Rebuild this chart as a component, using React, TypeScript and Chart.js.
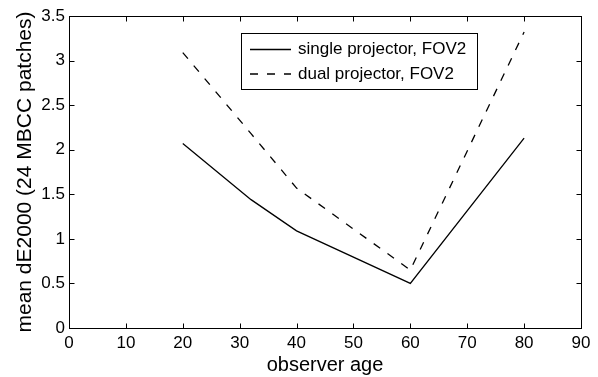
import React, { useEffect, useRef } from "react";
import { Chart, registerables } from "chart.js";

Chart.register(...registerables);

const ages = [20, 32, 40, 60, 80];
const singleProjector = [2.07, 1.44, 1.09, 0.5, 2.13];
const dualProjector = [3.09, 2.18, 1.57, 0.65, 3.32];
const seriesLabels = ["single projector, FOV2", "dual projector, FOV2"];
const xTicks = [0, 10, 20, 30, 40, 50, 60, 70, 80, 90];
const yTicks = [0, 0.5, 1, 1.5, 2, 2.5, 3, 3.5];
const xTitle = "observer age";
const yTitle = "mean dE2000 (24 MBCC patches)";

const FONT = "'Liberation Sans', Arial, Helvetica, sans-serif";

const framePlugin = {
  id: "matlabFrame",
  afterDraw(chart: any) {
    const { ctx, chartArea: a, scales } = chart;
    const xs = scales.x;
    const ys = scales.y;
    ctx.save();
    ctx.strokeStyle = "#000";
    ctx.lineWidth = 1;
    const L = Math.round(a.left) + 0.5;
    const T = Math.round(a.top) + 0.5;
    const R = Math.round(a.right) + 0.5;
    const B = Math.round(a.bottom) + 0.5;
    ctx.strokeRect(L, T, R - L, B - T);
    const tl = 5;
    ctx.beginPath();
    xTicks.forEach((v) => {
      const p = Math.round(xs.getPixelForValue(v)) + 0.5;
      ctx.moveTo(p, B);
      ctx.lineTo(p, B - tl);
      ctx.moveTo(p, T);
      ctx.lineTo(p, T + tl);
    });
    yTicks.forEach((v) => {
      const p = Math.round(ys.getPixelForValue(v)) + 0.5;
      ctx.moveTo(L, p);
      ctx.lineTo(L + tl, p);
      ctx.moveTo(R, p);
      ctx.lineTo(R - tl, p);
    });
    ctx.stroke();

    // legend box
    const bx = 241.5;
    const by = 33.5;
    const bw = 236;
    const bh = 56;
    ctx.fillStyle = "#fff";
    ctx.fillRect(bx, by, bw, bh);
    ctx.strokeRect(bx, by, bw, bh);
    const rows = [49.5, 74];
    chart.data.datasets.forEach((ds: any, i: number) => {
      const y = rows[i];
      ctx.beginPath();
      ctx.lineWidth = ds.borderWidth;
      ctx.setLineDash(ds.borderDash || []);
      ctx.moveTo(250, y);
      ctx.lineTo(291, y);
      ctx.stroke();
      ctx.setLineDash([]);
      ctx.fillStyle = "#000";
      ctx.font = `17px ${FONT}`;
      ctx.textBaseline = "middle";
      ctx.textAlign = "left";
      ctx.fillText(ds.label, 298, y);
    });
    ctx.restore();
  },
};

export default function App() {
  const ref = useRef<HTMLCanvasElement | null>(null);
  useEffect(() => {
    if (!ref.current) return;
    const chart = new Chart(ref.current, {
      type: "line",
      data: {
        datasets: [
          {
            label: seriesLabels[0],
            data: ages.map((a, i) => ({ x: a, y: singleProjector[i] })),
            borderColor: "#000",
            borderWidth: 1.3,
            pointRadius: 0,
            tension: 0,
            fill: false,
          },
          {
            label: seriesLabels[1],
            data: ages.map((a, i) => ({ x: a, y: dualProjector[i] })),
            borderColor: "#000",
            borderWidth: 1.3,
            borderDash: [8, 9],
            pointRadius: 0,
            tension: 0,
            fill: false,
          },
        ],
      },
      options: {
        animation: false,
        responsive: false,
        events: [],
        layout: { padding: { left: 0, right: 17, top: 16, bottom: 0 } },
        plugins: { legend: { display: false }, tooltip: { enabled: false } },
        scales: {
          x: {
            type: "linear",
            min: 0,
            max: 90,
            afterFit: (s: any) => {
              s.height = 49;
            },
            afterBuildTicks: (s: any) => {
              s.ticks = xTicks.map((v) => ({ value: v }));
            },
            grid: { display: false, drawTicks: false },
            border: { display: false },
            ticks: {
              autoSkip: false,
              maxRotation: 0,
              padding: 5,
              color: "#000",
              font: { family: FONT, size: 17 },
              callback: (v: any) => String(v),
            },
            title: {
              display: true,
              text: xTitle,
              color: "#000",
              font: { family: FONT, size: 20 },
              padding: { top: 0, bottom: 0 },
            },
          },
          y: {
            type: "linear",
            min: 0,
            max: 3.5,
            afterFit: (s: any) => {
              s.width = 69;
            },
            afterBuildTicks: (s: any) => {
              s.ticks = yTicks.map((v) => ({ value: v }));
            },
            grid: { display: false, drawTicks: false },
            border: { display: false },
            ticks: {
              padding: 4,
              color: "#000",
              font: { family: FONT, size: 17 },
              callback: (v: any) => String(v),
            },
            title: {
              display: true,
              text: yTitle,
              color: "#000",
              font: { family: FONT, size: 21 },
              padding: { top: 13, bottom: 0 },
            },
          },
        },
      },
      plugins: [framePlugin],
    });
    return () => chart.destroy();
  }, []);
  return (
    <div style={{ position: "fixed", left: 0, top: 0, width: 598, height: 377, background: "#fff" }}>
      <canvas ref={ref} width={598} height={377} style={{ display: "block" }} />
    </div>
  );
}
